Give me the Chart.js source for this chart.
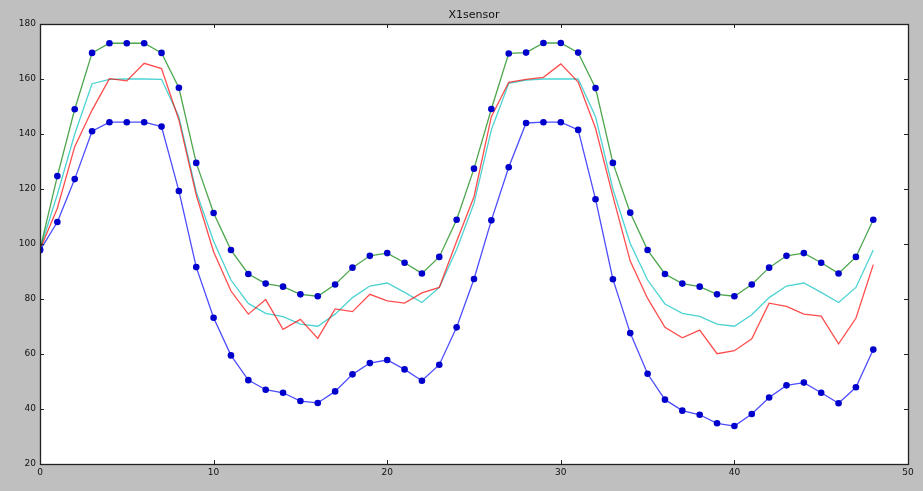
<!DOCTYPE html>
<html>
<head>
<meta charset="utf-8">
<script src="https://cdn.jsdelivr.net/npm/chart.js@4.4.0/dist/chart.umd.min.js"></script>
<style>
  html, body { margin: 0; padding: 0; background: #bfbfbf; }
  #wrap { width: 923px; height: 491px; }
</style>
</head>
<body>
<div id="wrap"><canvas id="chart"></canvas></div>
<script>
// Sensor readings, one sample per step
var steps = [];
for (var i = 0; i <= 48; i++) steps.push(i);

var upperBand = [98, 124.7, 149, 169.5, 173, 173, 173, 169.5, 156.8, 129.5, 111.3, 97.8, 89.1, 85.6, 84.5, 81.7, 81.0,
  85.3, 91.4, 95.7, 96.7, 93.2, 89.3, 95.3, 108.8, 127.4, 149.1, 169.3, 169.6, 173.1, 173.1, 169.6, 156.7,
  129.5, 111.4, 97.8, 89.1, 85.6, 84.5, 81.7, 81.0, 85.3, 91.4, 95.7, 96.7, 93.2, 89.3, 95.3, 108.8];

var lowerBand = [97.7, 108, 123.6, 141, 144.3, 144.3, 144.3, 142.7, 119.3, 91.6, 73.2, 59.5, 50.5, 47.0, 45.9, 42.9, 42.2,
  46.4, 52.6, 56.7, 57.8, 54.4, 50.3, 56.1, 69.7, 87.3, 108.6, 127.9, 144, 144.3, 144.3, 141.5, 116.3,
  87.2, 67.6, 52.8, 43.4, 39.4, 37.9, 34.8, 33.8, 38.2, 44.2, 48.6, 49.6, 45.9, 42.1, 47.9, 61.6];

var measured = [98, 113, 135.4, 148.7, 160.1, 159.3, 165.7, 163.8, 145.1, 117.8, 97.2, 82.9, 74.5, 79.8, 69.0, 72.6, 65.7,
  76.4, 75.4, 81.7, 79.3, 78.5, 82.2, 84.2, 101, 117.2, 146.3, 158.8, 159.9, 160.6, 165.5, 158.9, 142.1,
  117.4, 93.8, 80.2, 69.7, 65.9, 68.7, 60.1, 61.2, 65.5, 78.5, 77.3, 74.5, 73.8, 63.7, 73.0, 92.5];

var smoothed = [98, 118, 140, 158.3, 159.9, 160, 160, 159.9, 146.3, 119.0, 101, 86.9, 78.4, 74.8, 73.6, 70.9, 70.1,
  74.5, 80.5, 84.7, 85.8, 82.4, 78.7, 84.2, 98, 114.8, 141.5, 158.4, 159.6, 160, 160, 160, 146.3,
  120, 100.2, 86.9, 78.2, 74.8, 73.7, 70.9, 70.1, 74.3, 80.5, 84.7, 85.8, 82.4, 78.7, 84.2, 97.8];

var xTicks = [0, 10, 20, 30, 40, 50];
var yTicks = [20, 40, 60, 80, 100, 120, 140, 160, 180];

function toPoints(values) {
  return values.map(function (v, i) { return { x: steps[i], y: v }; });
}

// gray figure, white axes, black frame with inward ticks on all sides
var framePlugin = {
  id: 'frame',
  beforeDraw: function (chart) {
    var c = chart.ctx, a = chart.chartArea;
    c.save();
    c.fillStyle = '#bfbfbf';
    c.fillRect(0, 0, chart.width, chart.height);
    c.fillStyle = '#ffffff';
    c.fillRect(a.left, a.top, a.right - a.left, a.bottom - a.top);
    c.restore();
  },
  afterDraw: function (chart) {
    var c = chart.ctx, a = chart.chartArea;
    var sx = chart.scales.x, sy = chart.scales.y;
    c.save();
    c.strokeStyle = '#222';
    c.lineWidth = 1;
    c.beginPath();
    xTicks.forEach(function (t) {
      var px = Math.round(sx.getPixelForValue(t)) + 0.5;
      c.moveTo(px, a.bottom); c.lineTo(px, a.bottom - 4);
      c.moveTo(px, a.top); c.lineTo(px, a.top + 4);
    });
    yTicks.forEach(function (t) {
      var py = Math.round(sy.getPixelForValue(t)) + 0.5;
      c.moveTo(a.left, py); c.lineTo(a.left + 4, py);
      c.moveTo(a.right, py); c.lineTo(a.right - 4, py);
    });
    c.stroke();
    c.lineWidth = 1.3;
    c.strokeRect(Math.round(a.left) + 0.5, Math.round(a.top) + 0.5,
      Math.round(a.right - a.left), Math.round(a.bottom - a.top));
    c.restore();
  }
};

var markerColor = '#0000cc';

var ctx = document.getElementById('chart').getContext('2d');
var myChart = new Chart(ctx, {
  type: 'line',
  data: {
    datasets: [
      {
        label: 'upper',
        data: toPoints(upperBand),
        borderColor: 'rgba(0, 128, 0, 0.7)',
        borderWidth: 1.3,
        pointRadius: 3.3,
        pointBackgroundColor: markerColor,
        pointBorderColor: markerColor,
        pointBorderWidth: 0
      },
      {
        label: 'lower',
        data: toPoints(lowerBand),
        borderColor: 'rgba(0, 0, 255, 0.7)',
        borderWidth: 1.3,
        pointRadius: 3.3,
        pointBackgroundColor: markerColor,
        pointBorderColor: markerColor,
        pointBorderWidth: 0
      },
      {
        label: 'measured',
        data: toPoints(measured),
        borderColor: 'rgba(255, 0, 0, 0.7)',
        borderWidth: 1.3,
        pointRadius: 0
      },
      {
        label: 'smoothed',
        data: toPoints(smoothed),
        borderColor: 'rgba(0, 191, 191, 0.7)',
        borderWidth: 1.3,
        pointRadius: 0
      }
    ]
  },
  options: {
    responsive: true,
    maintainAspectRatio: false,
    animation: false,
    events: [],
    layout: { padding: { top: 0, right: 15, bottom: 0, left: 0 } },
    plugins: {
      legend: { display: false },
      tooltip: { enabled: false },
      title: {
        display: true,
        text: 'X1sensor',
        fullSize: false,
        color: '#111',
        font: { family: 'DejaVu Sans', size: 11, weight: 'normal', lineHeight: 1.2 },
        padding: { top: 9, bottom: 1.8 }
      }
    },
    elements: { line: { tension: 0 } },
    scales: {
      x: {
        type: 'linear',
        min: 0,
        max: 50,
        grid: { display: false, drawTicks: false, tickLength: 0 },
        border: { display: false },
        ticks: {
          stepSize: 10,
          padding: 3,
          color: '#111',
          font: { family: 'DejaVu Sans', size: 9 },
          maxRotation: 0
        },
        afterFit: function (s) { s.height = 27; }
      },
      y: {
        min: 20,
        max: 180,
        grid: { display: false, drawTicks: false, tickLength: 0 },
        border: { display: false },
        ticks: {
          stepSize: 20,
          padding: 4,
          color: '#111',
          font: { family: 'DejaVu Sans', size: 9 }
        },
        afterFit: function (s) { s.width = 40; }
      }
    }
  },
  plugins: [framePlugin]
});
</script>
</body>
</html>
